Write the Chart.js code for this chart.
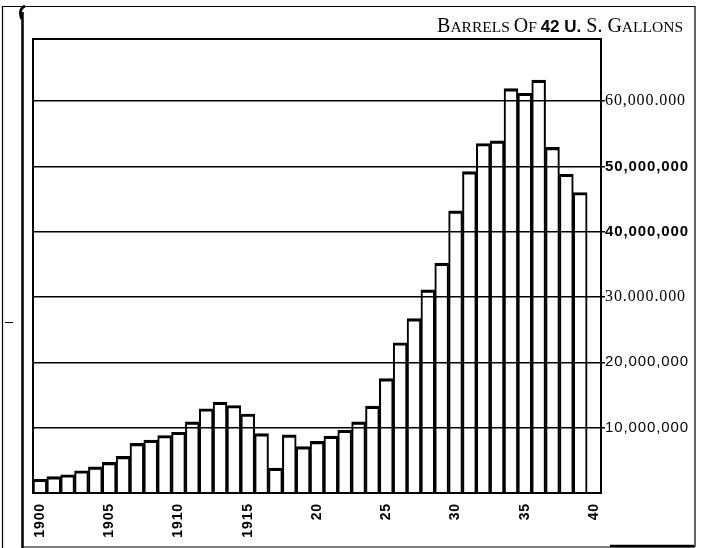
<!DOCTYPE html>
<html>
<head>
<meta charset="utf-8">
<script src="https://cdn.jsdelivr.net/npm/chart.js@4"></script>
<style>
  html, body { margin: 0; padding: 0; background: #ffffff; }
  #wrap { position: relative; width: 707px; height: 548px; }
</style>
</head>
<body>
<div id="wrap"><canvas id="chart" width="707" height="548"></canvas></div>
<script>
// Annual quantity, barrels of 42 U.S. gallons, 1900-1939 (1940 slot left empty)
const years = ['1900','1901','1902','1903','1904','1905','1906','1907','1908','1909',
               '1910','1911','1912','1913','1914','1915','1916','1917','1918','1919',
               '1920','1921','1922','1923','1924','1925','1926','1927','1928','1929',
               '1930','1931','1932','1933','1934','1935','1936','1937','1938','1939','1940'];
const barrels = [2100000, 2500000, 2800000, 3400000, 4000000, 4700000, 5600000, 7600000, 8100000, 8800000,
                 9300000, 10900000, 12900000, 13900000, 13400000, 12100000, 9100000, 3800000, 8900000, 7100000,
                 7900000, 8700000, 9600000, 10900000, 13300000, 17500000, 23000000, 26700000, 31100000, 35200000,
                 43200000, 49200000, 53500000, 53900000, 61900000, 61200000, 63200000, 52900000, 48800000, 46000000,
                 null];

// Axis labelling
const xTickYears = ['1900','1905','1910','1915','1920','1925','1930','1935','1940'];
const xTickText  = ['1900','1905','1910','1915','20','25','30','35','40'];
const yTickValues = [10000000, 20000000, 30000000, 40000000, 50000000, 60000000];
const yTickText   = ['10,000,000','20,000,000','30.000.000','40,000,000','50,000,000','60,000.000'];
const yTickFaces  = ['sans','sans','serif','sansBold','sansBold','serif'];
const unitTitle = [
  ['B', 'big'], ['ARRELS ', 'small'], ['O', 'big'], ['F ', 'small'],
  ['42 ', 'bold'], ['U.', 'bold'], [' S. ', 'big'], ['G', 'big'], ['ALLONS', 'small']
];

const faceFonts = {
  sans:     { family: 'Liberation Sans', size: 15, weight: 'normal' },
  sansBold: { family: 'Liberation Sans', size: 15, weight: 'bold' },
  serif:    { family: 'Liberation Serif', size: 16, weight: 'normal' }
};
const titleFonts = {
  big:   'normal 20px "Liberation Serif"',
  small: 'normal 15.5px "Liberation Serif"',
  bold:  'bold 17px "Liberation Sans"'
};

// Slightly spaced lettering for the axis figures
const spacingPlugin = {
  id: 'spacing',
  beforeDraw(chart) { chart.ctx.letterSpacing = '0.9px'; },
  beforeLayout(chart) { chart.ctx.letterSpacing = '0.9px'; }
};

// Page frame, plot frame and unit caption
const framePlugin = {
  id: 'frame',
  afterDraw(chart) {
    const { ctx, chartArea: a } = chart;
    ctx.save();
    ctx.letterSpacing = '0px';
    ctx.strokeStyle = '#000';
    // plot frame
    ctx.lineWidth = 2;
    ctx.strokeRect(a.left, a.top, a.right - a.left, a.bottom - a.top);
    // page rules
    ctx.lineWidth = 1.2;
    ctx.beginPath();
    ctx.moveTo(2.5, 548); ctx.lineTo(2.5, 6.5); ctx.lineTo(695, 6.5); ctx.lineTo(695, 547);
    ctx.moveTo(22, 547); ctx.lineTo(695, 547);
    ctx.stroke();
    ctx.lineWidth = 2.5;
    ctx.beginPath();
    ctx.moveTo(22.5, 12); ctx.lineTo(22.5, 548);
    ctx.moveTo(610, 546); ctx.lineTo(694, 546);
    ctx.stroke();
    ctx.beginPath();
    ctx.moveTo(25, 6); ctx.quadraticCurveTo(18, 9, 21.5, 19);
    ctx.stroke();
    ctx.lineWidth = 1;
    ctx.beginPath();
    ctx.moveTo(5, 322.5); ctx.lineTo(13, 322.5);
    ctx.stroke();
    // unit caption, right aligned
    ctx.fillStyle = '#000';
    ctx.textBaseline = 'alphabetic';
    let total = 0;
    unitTitle.forEach(([t, f]) => { ctx.font = titleFonts[f]; total += ctx.measureText(t).width; });
    let x = 683 - total;
    unitTitle.forEach(([t, f]) => {
      ctx.font = titleFonts[f];
      ctx.fillText(t, x, 32);
      x += ctx.measureText(t).width;
    });
    ctx.restore();
  }
};

new Chart(document.getElementById('chart'), {
  type: 'bar',
  data: {
    labels: years,
    datasets: [{
      data: barrels,
      backgroundColor: 'rgba(255,255,255,0)',
      borderColor: '#000',
      borderWidth: { top: 2.5, left: 1.4, right: 1.4, bottom: 0 },
      categoryPercentage: 1,
      barPercentage: 1
    }]
  },
  options: {
    responsive: false,
    animation: false,
    devicePixelRatio: 1,
    layout: { padding: { left: 33, top: 39, right: 0, bottom: 0 } },
    plugins: { legend: { display: false }, tooltip: { enabled: false }, title: { display: false } },
    scales: {
      x: {
        type: 'category',
        offset: true,
        grid: { display: false },
        border: { display: false },
        afterFit(scale) { scale.height = 55; },
        ticks: {
          autoSkip: false,
          maxRotation: 90,
          minRotation: 90,
          padding: 2,
          color: '#000',
          font: { family: 'Liberation Sans', size: 14, weight: 'bold' },
          callback(value, index) {
            const k = xTickYears.indexOf(years[index]);
            return k >= 0 ? xTickText[k] : '';
          }
        }
      },
      y: {
        position: 'right',
        min: 0,
        max: 69500000,
        afterBuildTicks(scale) { scale.ticks = yTickValues.map(v => ({ value: v })); },
        afterFit(scale) { scale.width = 106; },
        border: { display: false },
        grid: { color: '#000', lineWidth: 1.5, tickLength: 4, drawTicks: true },
        ticks: {
          padding: 0,
          color: '#000',
          font(ctx) {
            const k = yTickValues.indexOf(ctx.tick ? ctx.tick.value : -1);
            return faceFonts[yTickFaces[k >= 0 ? k : 0]];
          },
          callback(value) {
            const k = yTickValues.indexOf(value);
            return k >= 0 ? yTickText[k] : '';
          }
        }
      }
    }
  },
  plugins: [spacingPlugin, framePlugin]
});
</script>
</body>
</html>
